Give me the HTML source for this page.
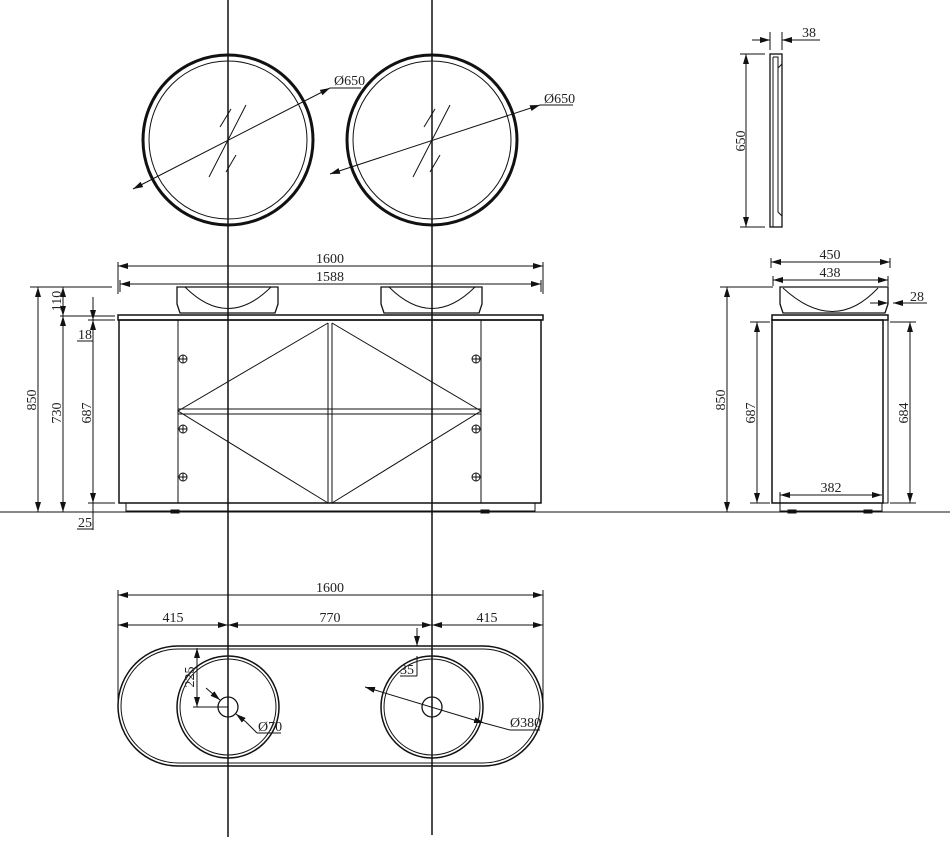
<!DOCTYPE html>
<html><head><meta charset="utf-8"><style>
html,body{margin:0;padding:0;background:#fff}
svg{display:block}
text{font-family:"Liberation Serif",serif;font-size:14px;fill:#222}
</style></head><body>
<svg width="950" height="847" viewBox="0 0 950 847" xmlns="http://www.w3.org/2000/svg">
<defs>
<marker id="a" viewBox="0 0 10 6" refX="10" refY="3" markerWidth="10" markerHeight="6" orient="auto-start-reverse" markerUnits="userSpaceOnUse"><path d="M0,0 L10,3 L0,6 z" fill="#111"/></marker>
</defs>
<g stroke="#111" fill="none" stroke-width="1">
<line x1="228" y1="0" x2="228" y2="837" stroke-width="1.5"/>
<line x1="432" y1="0" x2="432" y2="835" stroke-width="1.5"/>
<line x1="0" y1="512" x2="950" y2="512"/>

<circle cx="228" cy="140" r="85" stroke-width="3"/>
<circle cx="228" cy="140" r="79"/>
<circle cx="432" cy="140" r="85" stroke-width="3"/>
<circle cx="432" cy="140" r="79"/>
<line x1="133" y1="189" x2="330" y2="88" marker-start="url(#a)" marker-end="url(#a)"/>
<line x1="330" y1="88" x2="361" y2="88"/>
<line x1="330" y1="174" x2="540" y2="105" marker-start="url(#a)" marker-end="url(#a)"/>
<line x1="540" y1="105" x2="573" y2="105"/>
<line x1="209" y1="177" x2="246" y2="105"/><line x1="220" y1="127" x2="231" y2="109"/><line x1="226" y1="172" x2="236" y2="155"/>
<line x1="413" y1="177" x2="450" y2="105"/><line x1="424" y1="127" x2="435" y2="109"/><line x1="430" y1="172" x2="440" y2="155"/>

<rect x="770" y="54" width="12" height="173" stroke-width="1.3"/>
<path d="M773,57 L778,57 L778,68 L782,64 M778,68 L778,212 L782,216 M773,227 L773,57"/>
<line x1="773" y1="70" x2="773" y2="212"/>
<line x1="770" y1="32" x2="770" y2="50"/><line x1="782" y1="32" x2="782" y2="50"/>
<line x1="752" y1="40" x2="770" y2="40" marker-end="url(#a)"/>
<line x1="800" y1="40" x2="782" y2="40" marker-end="url(#a)"/><line x1="800" y1="40" x2="820" y2="40"/>
<line x1="740" y1="54" x2="765" y2="54"/><line x1="740" y1="227" x2="765" y2="227"/>
<line x1="746" y1="54" x2="746" y2="227" marker-start="url(#a)" marker-end="url(#a)"/>

<rect x="118" y="315" width="425" height="5" stroke-width="1.5"/>
<rect x="119" y="320" width="422" height="183" stroke-width="1.5"/>
<rect x="126" y="503" width="409" height="8"/>
<line x1="178" y1="320" x2="178" y2="503"/><line x1="481" y1="320" x2="481" y2="503"/>
<line x1="328" y1="323" x2="328" y2="503"/><line x1="332" y1="323" x2="332" y2="503"/>
<line x1="178" y1="409" x2="481" y2="409"/><line x1="178" y1="414" x2="481" y2="414"/>
<path d="M328,323 L178,411 L328,503 M332,323 L481,411 L332,503"/>
<path d="M177,287 L278,287 L278,304 L275,313 L180,313 L177,304 Z" stroke-width="1.3"/>
<path d="M185,287 Q228,330 271,287"/>
<path d="M381,287 L482,287 L482,304 L479,313 L384,313 L381,304 Z" stroke-width="1.3"/>
<path d="M389,287 Q432,330 475,287"/>
<g>
<circle cx="183" cy="359" r="4"/><path d="M179,359h8M183,355v8"/>
<circle cx="183" cy="429" r="4"/><path d="M179,429h8M183,425v8"/>
<circle cx="183" cy="477" r="4"/><path d="M179,477h8M183,473v8"/>
<circle cx="476" cy="359" r="4"/><path d="M472,359h8M476,355v8"/>
<circle cx="476" cy="429" r="4"/><path d="M472,429h8M476,425v8"/>
<circle cx="476" cy="477" r="4"/><path d="M472,477h8M476,473v8"/>
</g>
<rect x="171" y="510" width="8" height="3"/><rect x="481" y="510" width="8" height="3"/>
<line x1="118" y1="262" x2="118" y2="294"/><line x1="543" y1="262" x2="543" y2="294"/>
<line x1="120" y1="280" x2="120" y2="292"/><line x1="541" y1="280" x2="541" y2="292"/>
<line x1="118" y1="266" x2="543" y2="266" marker-start="url(#a)" marker-end="url(#a)"/>
<line x1="120" y1="284" x2="541" y2="284" marker-start="url(#a)" marker-end="url(#a)"/>
<line x1="30" y1="287" x2="112" y2="287"/>
<line x1="60" y1="316" x2="115" y2="316"/>
<line x1="88" y1="320" x2="115" y2="320"/>
<line x1="88" y1="503" x2="115" y2="503"/>
<line x1="38" y1="287" x2="38" y2="512" marker-start="url(#a)" marker-end="url(#a)"/>
<line x1="63" y1="287" x2="63" y2="316" marker-start="url(#a)" marker-end="url(#a)"/>
<line x1="63" y1="316" x2="63" y2="512" marker-start="url(#a)" marker-end="url(#a)"/>
<line x1="93" y1="297" x2="93" y2="320" marker-end="url(#a)"/>
<line x1="93" y1="320" x2="93" y2="503" marker-start="url(#a)" marker-end="url(#a)"/>
<line x1="93" y1="503" x2="93" y2="530"/>
<line x1="77" y1="341" x2="93" y2="341"/><line x1="77" y1="529" x2="93" y2="529"/>

<path d="M780,287 L888,287 L888,304 L885,313 L783,313 L780,304 Z" stroke-width="1.3"/>
<path d="M783,288 Q834,335 878,288"/>
<rect x="772" y="315" width="116" height="5" stroke-width="1.5"/>
<rect x="772" y="320" width="111" height="183" stroke-width="1.5"/>
<rect x="883" y="320" width="5" height="183"/>
<rect x="780" y="503" width="102" height="8"/>
<rect x="788" y="510" width="8" height="3"/><rect x="864" y="510" width="8" height="3"/>
<line x1="771" y1="258" x2="771" y2="268"/><line x1="890" y1="258" x2="890" y2="268"/>
<line x1="771" y1="262" x2="890" y2="262" marker-start="url(#a)" marker-end="url(#a)"/>
<line x1="773" y1="276" x2="773" y2="286"/><line x1="888" y1="276" x2="888" y2="286"/>
<line x1="773" y1="280" x2="888" y2="280" marker-start="url(#a)" marker-end="url(#a)"/>
<line x1="870" y1="303" x2="888" y2="303" marker-end="url(#a)"/>
<line x1="922" y1="303" x2="893" y2="303" marker-end="url(#a)"/><line x1="893" y1="303" x2="927" y2="303"/>
<line x1="720" y1="287" x2="773" y2="287"/>
<line x1="727" y1="287" x2="727" y2="512" marker-start="url(#a)" marker-end="url(#a)"/>
<line x1="750" y1="322" x2="770" y2="322"/><line x1="750" y1="503" x2="770" y2="503"/>
<line x1="757" y1="322" x2="757" y2="503" marker-start="url(#a)" marker-end="url(#a)"/>
<line x1="890" y1="322" x2="916" y2="322"/><line x1="890" y1="503" x2="916" y2="503"/>
<line x1="910" y1="322" x2="910" y2="503" marker-start="url(#a)" marker-end="url(#a)"/>
<line x1="780" y1="492" x2="780" y2="503"/>
<line x1="780" y1="495" x2="882" y2="495" marker-start="url(#a)" marker-end="url(#a)"/>

<path d="M178,646 L483,646 A60,60 0 0 1 483,766 L178,766 A60,60 0 0 1 178,646 Z" stroke-width="1.5"/>
<path d="M178,649 L483,649 A57,57 0 0 1 483,763 L178,763 A57,57 0 0 1 178,649 Z"/>
<circle cx="228" cy="707" r="51" stroke-width="1.5"/>
<circle cx="228" cy="707" r="48"/>
<circle cx="228" cy="707" r="10" stroke-width="1.3"/>
<circle cx="432" cy="707" r="51" stroke-width="1.5"/>
<circle cx="432" cy="707" r="48"/>
<circle cx="432" cy="707" r="10" stroke-width="1.3"/>
<line x1="118" y1="590" x2="118" y2="700"/><line x1="543" y1="590" x2="543" y2="700"/>
<line x1="118" y1="595" x2="543" y2="595" marker-start="url(#a)" marker-end="url(#a)"/>
<line x1="118" y1="625" x2="228" y2="625" marker-start="url(#a)" marker-end="url(#a)"/>
<line x1="228" y1="625" x2="432" y2="625" marker-start="url(#a)" marker-end="url(#a)"/>
<line x1="432" y1="625" x2="543" y2="625" marker-start="url(#a)" marker-end="url(#a)"/>
<line x1="197" y1="648" x2="197" y2="707" marker-start="url(#a)" marker-end="url(#a)"/>
<line x1="193" y1="707" x2="228" y2="707"/>
<line x1="206" y1="688" x2="220" y2="700" marker-end="url(#a)"/>
<line x1="246" y1="722" x2="236" y2="714" marker-end="url(#a)"/>
<line x1="246" y1="722" x2="257" y2="733"/><line x1="257" y1="733" x2="281" y2="733"/>
<line x1="417" y1="628" x2="417" y2="646" marker-end="url(#a)"/>
<line x1="417" y1="656" x2="417" y2="676"/><line x1="400" y1="676" x2="417" y2="676"/>
<line x1="365" y1="687" x2="484" y2="723" marker-start="url(#a)" marker-end="url(#a)"/>
<line x1="484" y1="723" x2="510" y2="730"/><line x1="510" y1="730" x2="540" y2="730"/>
</g>
<g>
<text x="334" y="85">Ø650</text>
<text x="544" y="103">Ø650</text>
<text x="802" y="37">38</text>
<text x="745" y="141" transform="rotate(-90 745 141)" text-anchor="middle">650</text>
<text x="330" y="263" text-anchor="middle">1600</text>
<text x="330" y="281" text-anchor="middle">1588</text>
<text x="36" y="400" transform="rotate(-90 36 400)" text-anchor="middle">850</text>
<text x="61" y="413" transform="rotate(-90 61 413)" text-anchor="middle">730</text>
<text x="61" y="301" transform="rotate(-90 61 301)" text-anchor="middle">110</text>
<text x="91" y="413" transform="rotate(-90 91 413)" text-anchor="middle">687</text>
<text x="78" y="339">18</text>
<text x="78" y="527">25</text>
<text x="830" y="259" text-anchor="middle">450</text>
<text x="830" y="277" text-anchor="middle">438</text>
<text x="910" y="301">28</text>
<text x="725" y="400" transform="rotate(-90 725 400)" text-anchor="middle">850</text>
<text x="755" y="413" transform="rotate(-90 755 413)" text-anchor="middle">687</text>
<text x="908" y="413" transform="rotate(-90 908 413)" text-anchor="middle">684</text>
<text x="831" y="492" text-anchor="middle">382</text>
<text x="330" y="592" text-anchor="middle">1600</text>
<text x="173" y="622" text-anchor="middle">415</text>
<text x="330" y="622" text-anchor="middle">770</text>
<text x="487" y="622" text-anchor="middle">415</text>
<text x="194" y="677" transform="rotate(-90 194 677)" text-anchor="middle">225</text>
<text x="258" y="731">Ø70</text>
<text x="400" y="674">35</text>
<text x="510" y="727">Ø380</text>
</g>
</svg>
</body></html>
